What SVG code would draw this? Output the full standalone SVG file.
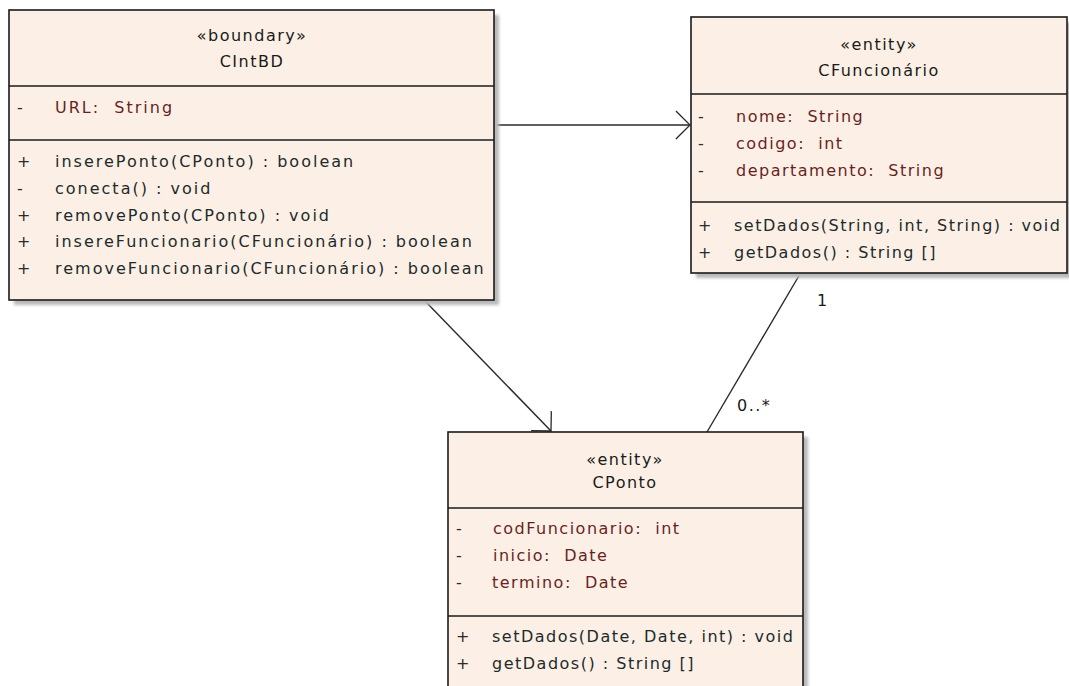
<svg xmlns="http://www.w3.org/2000/svg" width="1069" height="686" viewBox="0 0 1069 686">
  <style>
    .box { fill: #fcf0e6; stroke: #1a1a1a; stroke-width: 1.6; }
    .shadow { fill: #b9b9b9; filter: url(#soft); }
    .div { stroke: #1a1a1a; stroke-width: 1.6; }
    text { font-family: "DejaVu Sans", Verdana, sans-serif; font-size: 16px; letter-spacing: 1.5px; white-space: pre; }
    .st { text-anchor: middle; fill: #1a1a1a; }
    .vis { fill: #2a2a2a; letter-spacing: 0; }
    .attr { fill: #6a1f1f; }
    .op { fill: #1c2a2a; }
    .wide { letter-spacing: 2px; }
    .edge { stroke: #2a2a2a; stroke-width: 1.4; fill: none; }
    .lbl { fill: #1a1a1a; }
  </style>
  <defs>
    <filter id="soft" x="-5%" y="-5%" width="110%" height="110%">
      <feGaussianBlur stdDeviation="1.5"/>
    </filter>
    <marker id="open" markerUnits="userSpaceOnUse" markerWidth="30" markerHeight="30" refX="0" refY="0" viewBox="-16 -16 32 32" orient="auto">
      <path d="M-15,-15 L0,0 L-15,15" fill="none" stroke="#2a2a2a" stroke-width="1.4"/>
    </marker>
  </defs>

  <rect width="1069" height="686" fill="#ffffff"/>

  <!-- connectors -->
  <g id="connectors">
    <line class="edge" x1="494" y1="125" x2="690" y2="125" marker-end="url(#open)"/>
    <line class="edge" x1="426" y1="302" x2="551" y2="431" marker-end="url(#open)"/>
    <line class="edge" x1="800" y1="274" x2="707" y2="432"/>
    <text class="lbl" x="817" y="306">1</text>
    <text class="lbl" x="737" y="411">0..*</text>
  </g>

  <!-- boundary class -->
  <g id="CIntBD">
    <rect class="shadow" x="14" y="15" width="485" height="290"/>
    <rect class="box" x="9" y="10" width="485" height="290"/>
    <line class="div" x1="9" y1="86" x2="494" y2="86"/>
    <line class="div" x1="9" y1="140" x2="494" y2="140"/>
    <text class="st" x="252" y="41">«boundary»</text>
    <text class="st" x="252" y="67">CIntBD</text>
    <text class="vis" x="17" y="113">-</text>
    <text class="attr wide" x="55" y="113">URL:  String</text>
    <text class="vis" x="17" y="167">+</text>
    <text class="op wide" x="55" y="167">inserePonto(CPonto) : boolean</text>
    <text class="vis" x="17" y="194">-</text>
    <text class="op wide" x="55" y="194">conecta() : void</text>
    <text class="vis" x="17" y="221">+</text>
    <text class="op wide" x="55" y="221">removePonto(CPonto) : void</text>
    <text class="vis" x="17" y="247">+</text>
    <text class="op wide" x="55" y="247">insereFuncionario(CFuncionário) : boolean</text>
    <text class="vis" x="17" y="274">+</text>
    <text class="op wide" x="55" y="274">removeFuncionario(CFuncionário) : boolean</text>
  </g>

  <!-- entity class CFuncionário -->
  <g id="CFuncionario">
    <rect class="shadow" x="696" y="22" width="377" height="256"/>
    <rect class="box" x="691" y="17" width="376" height="256"/>
    <line class="div" x1="691" y1="94" x2="1067" y2="94"/>
    <line class="div" x1="691" y1="202" x2="1067" y2="202"/>
    <text class="st" x="879" y="50">«entity»</text>
    <text class="st" x="879" y="76">CFuncionário</text>
    <text class="vis" x="698" y="122">-</text>
    <text class="attr" x="736" y="122">nome:  String</text>
    <text class="vis" x="698" y="149">-</text>
    <text class="attr" x="736" y="149">codigo:  int</text>
    <text class="vis" x="698" y="176">-</text>
    <text class="attr" x="736" y="176">departamento:  String</text>
    <text class="vis" x="698" y="231">+</text>
    <text class="op" x="734" y="231">setDados(String, int, String) : void</text>
    <text class="vis" x="698" y="258">+</text>
    <text class="op" x="734" y="258">getDados() : String []</text>
  </g>

  <!-- entity class CPonto -->
  <g id="CPonto">
    <rect class="shadow" x="453" y="437" width="355" height="270"/>
    <rect class="box" x="448" y="432" width="355" height="270"/>
    <line class="div" x1="448" y1="508" x2="803" y2="508"/>
    <line class="div" x1="448" y1="616" x2="803" y2="616"/>
    <text class="st" x="625" y="465">«entity»</text>
    <text class="st" x="625" y="488">CPonto</text>
    <text class="vis" x="456" y="534">-</text>
    <text class="attr" x="493" y="534">codFuncionario:  int</text>
    <text class="vis" x="456" y="561">-</text>
    <text class="attr" x="493" y="561">inicio:  Date</text>
    <text class="vis" x="456" y="588">-</text>
    <text class="attr" x="492" y="588">termino:  Date</text>
    <text class="vis" x="456" y="642">+</text>
    <text class="op" x="492" y="642">setDados(Date, Date, int) : void</text>
    <text class="vis" x="456" y="669">+</text>
    <text class="op" x="492" y="669">getDados() : String []</text>
  </g>
</svg>
